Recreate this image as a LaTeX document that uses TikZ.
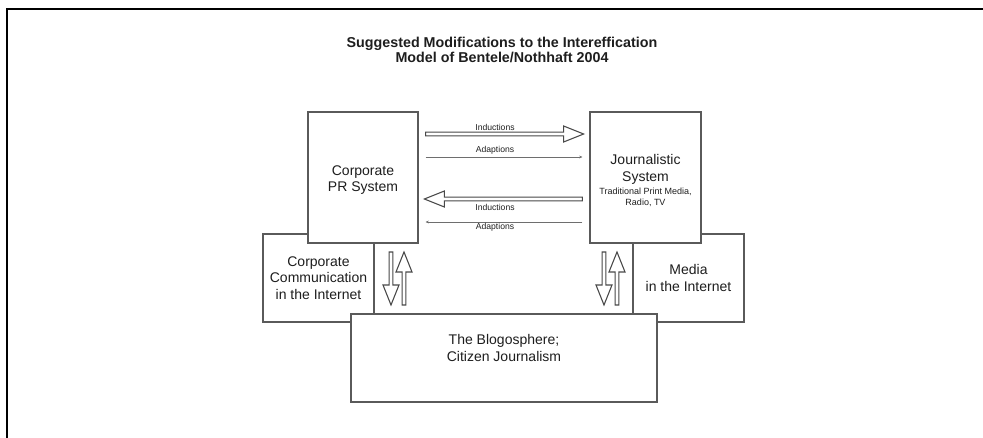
\documentclass[tikz,border=0pt]{standalone}
\usepackage{fontspec}
\setmainfont{Liberation Sans}
\usetikzlibrary{arrows.meta,calc}

\definecolor{boxline}{HTML}{5A5A5A}
\definecolor{txt}{HTML}{1E1E1E}
\definecolor{arrowline}{HTML}{484848}
\definecolor{thinline}{HTML}{6E6E6E}

% hollow block arrow: start coordinate, direction angle, length
\newcommand{\hollowarrow}[3]{%
  \begin{scope}[shift={(#1)}, rotate=#2]
    \draw[hollow] (0,-1.9) -- (#3-20,-1.9) -- (#3-20,-8) -- (#3,0)
      -- (#3-20,8) -- (#3-20,1.9) -- (0,1.9) -- cycle;
  \end{scope}}

\begin{document}
\begin{tikzpicture}[x=1pt, y=-1pt,
  box/.style={draw=boxline, line width=1.2pt, fill=white, inner sep=0pt,
    align=center, text=txt, font=\fontsize{14}{16.5}\selectfont},
  boxtext/.style={align=center, text=txt, inner sep=0pt,
    font=\fontsize{14}{16.5}\selectfont},
  hollow/.style={draw=arrowline, line width=1.05pt, fill=white, line join=miter},
  thinarrow/.style={draw=thinline, line width=0.7pt,
    -{Stealth[length=3.2pt,width=2.8pt]}},
  lbl/.style={font=\fontsize{8.6}{10}\selectfont, text=txt, inner sep=0pt},
  small/.style={font=\fontsize{8.8}{10.5}\selectfont}]

\useasboundingbox (0,0) rectangle (983,438);

% outer frame
\draw[line width=1.6pt, black] (983,9) -- (7,9) -- (7,438);

% title
\node[font=\bfseries\fontsize{14.3}{14.5}\selectfont, align=center, text=txt]
  (title) at (502,50) {Suggested Modifications to the Intereffication\\Model of Bentele/Nothhaft 2004};

% boxes lying behind
\node[box, minimum width=111pt, minimum height=88pt] (cci) at (318.5,278)
  {Corporate\\Communication\\in the Internet};
\node[box, minimum width=111pt, minimum height=88pt] (mi) at (688.5,278)
  {Media\\in the Internet};

% main systems
\node[box, minimum width=110pt, minimum height=131pt] (pr) at (363,177.5) {};
\node[boxtext] (prtext) at (363,180) {Corporate\\PR System};
\node[box, minimum width=111pt, minimum height=131pt] (js) at (645.5,177.5) {};
\node[boxtext] (jstext) at (645.5,181)
  {Journalistic\\System\\[-3.5pt]{\small Traditional Print Media,}\\[-5pt]{\small Radio, TV}};

% blogosphere
\node[box, minimum width=306pt, minimum height=88pt] (blog) at (504,358)
  {The Blogosphere;\\Citizen Journalism\\[4pt]};

% arrow end points
\coordinate (indA) at ($(pr.east)+(7,-43.5)$);
\coordinate (adpA) at ($(pr.east)+(7,-20.5)$);
\coordinate (indB) at ($(js.west)+(-7,21.5)$);
\coordinate (adpB) at ($(js.west)+(-7,44.5)$);
\coordinate (adpAe) at ($(js.west)+(-7,-20.5)$);
\coordinate (adpBe) at ($(pr.east)+(7,44.5)$);
\coordinate (ldown) at (391,252);
\coordinate (lup)   at (404,305);
\coordinate (rdown) at (604,252);
\coordinate (rup)   at (617,305);

% inductions (hollow) and adaptions (thin)
\hollowarrow{indA}{0}{158}
\draw[thinarrow] (adpA) -- (adpAe);
\hollowarrow{indB}{180}{158}
\draw[thinarrow] (adpB) -- (adpBe);

\node[lbl] (l1) at (495,127) {Inductions};
\node[lbl] (l2) at (495,150) {Adaptions};
\node[lbl] (l3) at (495,207) {Inductions};
\node[lbl] (l4) at (495,227) {Adaptions};

% exchange with the blogosphere
\hollowarrow{ldown}{-90}{53}
\hollowarrow{lup}{90}{53}
\hollowarrow{rdown}{-90}{53}
\hollowarrow{rup}{90}{53}

\end{tikzpicture}
\end{document}
